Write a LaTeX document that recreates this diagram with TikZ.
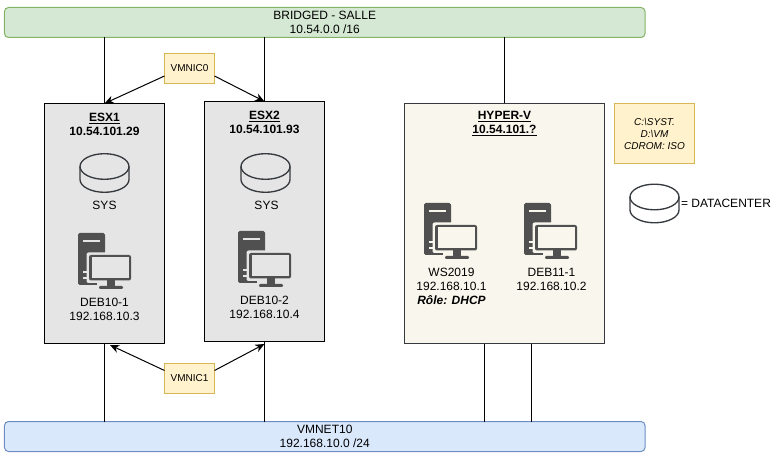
\documentclass[tikz,border=0pt]{standalone}
\usepackage{fontspec}
\setmainfont{Liberation Sans}
\usetikzlibrary{arrows.meta,calc}
\definecolor{iconc}{HTML}{505050}
\definecolor{diskc}{HTML}{36393D}
\tikzset{
  x=0.75pt,y=-0.75pt,
  every node/.style={inner sep=0pt,outer sep=0pt,font=\fontsize{9pt}{10.5pt}\selectfont,align=center,text=black},
  greenbar/.style={draw=#1,rounded corners=3pt,line width=0.75pt,minimum width=480.4pt,minimum height=22.5pt},
  hostbox/.style={draw=black,fill=black!10,line width=0.75pt,minimum width=90pt,minimum height=180pt},
  hypbox/.style={draw=diskc,fill=hypf,line width=0.75pt,minimum width=150pt,minimum height=180pt},
  nicbox/.style={draw=noteb,fill=notef,line width=0.75pt,minimum width=37.5pt,minimum height=22.5pt,font=\fontsize{7.5pt}{9pt}\selectfont},
  notebox/.style={draw=noteb,fill=notef,line width=0.75pt,minimum width=60pt,minimum height=45pt,font=\fontsize{7.5pt}{9pt}\selectfont\itshape},
  link/.style={draw=black,line width=0.75pt},
  arrowlink/.style={link,-{Stealth[length=7pt,width=6pt]}},
  pics/diskicon/.style={code={
    \draw[diskc,line width=1pt] (0,0) ellipse (24.5 and 12.8);
    \draw[diskc,line width=1pt] (-24.5,0) -- (-24.5,13)
      .. controls (-24.5,20) and (-13.5,25.8) .. (0,25.8)
      .. controls (13.5,25.8) and (24.5,20) .. (24.5,13) -- (24.5,0);
  }},
  pics/pcicon/.style={code={
    \fill[iconc,rounded corners=1.2pt] (0,0) rectangle (27,52);
    \fill[#1] (5,7) rectangle (22,9);
    \fill[#1] (5,38.5) rectangle (11,40);
    \fill[#1] (5,44.5) rectangle (11,46);
    \fill[#1,rounded corners=1.5pt] (8.5,19.5) rectangle (55,50);
    \fill[#1] (19,47) rectangle (47,58);
    \fill[iconc,rounded corners=1.5pt] (11,22) rectangle (53,47.5);
    \fill[#1] (13.5,24.5) rectangle (50.5,45);
    \fill[iconc] (29,47.5) rectangle (37,53);
    \fill[iconc,rounded corners=0.8pt] (21,53) rectangle (45,56);
  }}
}
\definecolor{hypf}{HTML}{F9F7ED}
\definecolor{notef}{HTML}{FFF2CC}
\definecolor{noteb}{HTML}{D6B656}
\definecolor{gfill}{HTML}{D5E8D4}
\definecolor{gline}{HTML}{82B366}
\definecolor{bfill}{HTML}{DAE8FC}
\definecolor{bline}{HTML}{6C8EBF}
\begin{document}
\begin{tikzpicture}
\useasboundingbox (0,0) rectangle (777,459);
% network bars
\node[greenbar=gline,fill=gfill] (bridged) at (324.75,22.5) {BRIDGED - SALLE\\10.54.0.0 /16};
\node[greenbar=bline,fill=bfill] (vmnet) at (324.75,436.5) {VMNET10\\192.168.10.0 /24};
% hosts
\node[hostbox] (esx1) at (104.5,223.5) {};
\node[hostbox] (esx2) at (264.5,221.5) {};
\node[hypbox] (hyperv) at (504.5,223.5) {};
% free connection points
\coordinate (hypa) at (484.5,343.5);
\coordinate (hypb) at (531.5,343.5);
\coordinate (tip1) at (110,345);
\coordinate (tip2) at (264.5,344);
% NIC labels
\node[nicbox] (nic0) at (189.5,68.5) {VMNIC0};
\node[nicbox] (nic1) at (189.5,378.5) {VMNIC1};
\node[notebox] (note) at (654.5,133.5) {C:\textbackslash SYST.\\D:\textbackslash VM\\CDROM: ISO};
% vertical links
\draw[link] (esx1.north) -- (esx1.north |- bridged.south);
\draw[link] (esx2.north) -- (esx2.north |- bridged.south);
\draw[link] (hyperv.north) -- (hyperv.north |- bridged.south);
\draw[link] (esx1.south) -- (esx1.south |- vmnet.north);
\draw[link] (esx2.south) -- (esx2.south |- vmnet.north);
\draw[link] (hypa) -- (hypa |- vmnet.north);
\draw[link] (hypb) -- (hypb |- vmnet.north);
% NIC arrows
\draw[arrowlink] ($(nic0.west)+(0,7.5)$) -- (esx1.north);
\draw[arrowlink] ($(nic0.east)+(0,7.5)$) -- (esx2.north);
\draw[arrowlink] ($(nic1.west)+(0,-8)$) -- (tip1);
\draw[arrowlink] ($(nic1.east)+(0,-8)$) -- (tip2);
% host titles
\node[font=\fontsize{9pt}{10.5pt}\selectfont\bfseries] (t1) at (104.5,124) {\underline{ESX1}\\10.54.101.29};
\node[font=\fontsize{9pt}{10.5pt}\selectfont\bfseries] (t2) at (264.5,122) {\underline{ESX2}\\10.54.101.93};
\node[font=\fontsize{9pt}{10.5pt}\selectfont\bfseries] (t3) at (504.5,124) {\underline{HYPER-V}\\\underline{10.54.101.?}};
% disks
\pic at (104.5,166.5) {diskicon};
\pic at (265.5,166.5) {diskicon};
\pic at (654.5,197) {diskicon};
\node (s1) at (104.5,205.5) {SYS};
\node (s2) at (266.5,205.5) {SYS};
\node[anchor=west] (leg) at (681,203) {= DATACENTER};
% computers
\pic at (78,233) {pcicon=black!10};
\pic at (238,231) {pcicon=black!10};
\pic at (424,203) {pcicon=hypf};
\pic at (524,203) {pcicon=hypf};
\node (d1) at (104.5,309) {DEB10-1\\192.168.10.3};
\node (d2) at (264.5,307) {DEB10-2\\192.168.10.4};
\node (d3) at (451.5,286.5) {WS2019\\192.168.10.1\\\textit{\textbf{Rôle: DHCP}}};
\node (d4) at (551.5,279.5) {DEB11-1\\192.168.10.2};
\end{tikzpicture}
\end{document}
